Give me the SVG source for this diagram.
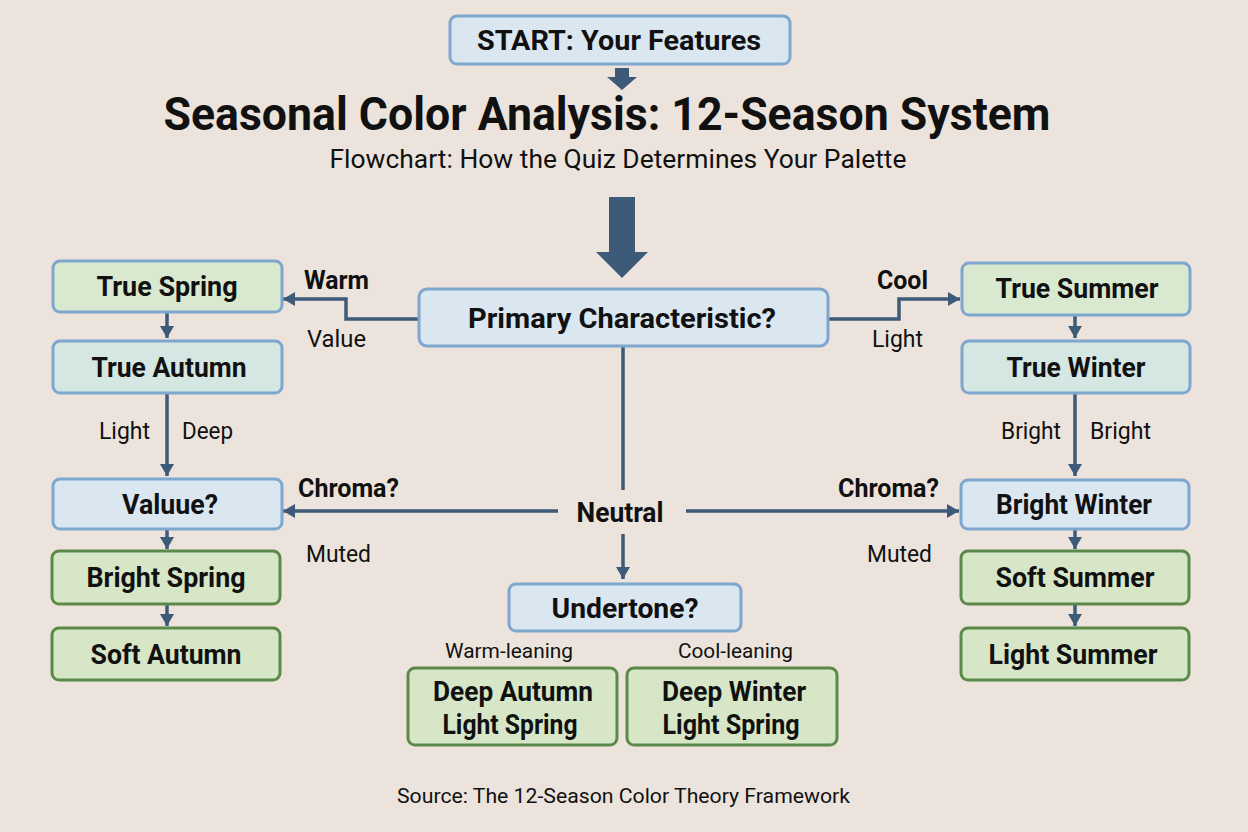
<svg xmlns="http://www.w3.org/2000/svg" width="1248" height="832" viewBox="0 0 1248 832">
<style>
text{font-family:Roboto,"Liberation Sans",sans-serif;fill:#111}
.b{font-weight:bold}
.nt{font-weight:bold;font-size:28px;text-anchor:middle}
.lb{font-size:23px}
.lbb{font-weight:bold;font-size:25px}
.blue{fill:#dae6f0;stroke:#7ea6cf;stroke-width:3}
.lg{fill:#d9e9cf;stroke:#7ea6cf;stroke-width:3}
.teal{fill:#d5e7e3;stroke:#7ea6cf;stroke-width:3}
.grn{fill:#d6e6c6;stroke:#5b8a48;stroke-width:3}
.c{fill:none;stroke:#3d5a78;stroke-width:3.5;marker-end:url(#ah)}
.cn{fill:none;stroke:#3d5a78;stroke-width:3.5}
</style>
<defs>
<marker id="ah" viewBox="0 0 12 14" refX="12" refY="7" markerWidth="12" markerHeight="14" markerUnits="userSpaceOnUse" orient="auto">
<path d="M0,0 L12,7 L0,14 z" fill="#3d5a78"/>
</marker>
</defs>
<rect width="1248" height="832" fill="#ece4dc"/>

<g id="connectors">
<polygon points="615,68 629,68 629,77 637,77 622,90 607,77 615,77" fill="#3d5a78"/>
<polygon points="609,197 635,197 635,252 648,252 622,278 596,252 609,252" fill="#3d5a78"/>
<path class="c" d="M419,319 H346 V299 H283"/>
<path class="c" d="M828,319 H899 V299 H960"/>
<path class="cn" d="M623,346 V490"/>
<path class="c" d="M558,511 H283"/>
<path class="c" d="M686,511 H959"/>
<path class="c" d="M623,534 V579"/>
<path class="c" d="M167,312 V338"/>
<path class="c" d="M167,393 V476"/>
<path class="c" d="M167,529 V549"/>
<path class="c" d="M167,605 V626"/>
<path class="c" d="M1075,315 V338"/>
<path class="c" d="M1075,393 V476"/>
<path class="c" d="M1075,529 V549"/>
<path class="c" d="M1075,605 V626"/>
</g>

<g id="title">
<text x="607" y="130" class="b" font-size="46" text-anchor="middle" textLength="887" lengthAdjust="spacingAndGlyphs">Seasonal Color Analysis: 12-Season System</text>
<text x="618" y="168" font-size="25" text-anchor="middle" textLength="577" lengthAdjust="spacingAndGlyphs" fill="#1c1c1c">Flowchart: How the Quiz Determines Your Palette</text>
</g>

<g id="start"><rect class="blue" x="450" y="16" width="340" height="48" rx="7"/>
<text class="nt" x="619" y="50" textLength="284" lengthAdjust="spacingAndGlyphs">START: Your Features</text></g>

<g id="primary"><rect class="blue" x="419" y="289" width="409" height="57" rx="8"/>
<text class="nt" x="622" y="328" textLength="308" lengthAdjust="spacingAndGlyphs">Primary Characteristic?</text></g>

<g id="true-spring"><rect class="lg" x="53" y="261" width="229" height="51" rx="7"/>
<text class="nt" x="167" y="296" textLength="141" lengthAdjust="spacingAndGlyphs">True Spring</text></g>
<g id="true-autumn"><rect class="teal" x="53" y="341" width="229" height="52" rx="7"/>
<text class="nt" x="169" y="377" textLength="155" lengthAdjust="spacingAndGlyphs">True Autumn</text></g>
<g id="valuue"><rect class="blue" x="53" y="479" width="229" height="50" rx="7"/>
<text class="nt" x="170" y="514" textLength="96" lengthAdjust="spacingAndGlyphs">Valuue?</text></g>
<g id="bright-spring"><rect class="grn" x="52" y="551" width="228" height="53" rx="7"/>
<text class="nt" x="166" y="587" textLength="159" lengthAdjust="spacingAndGlyphs">Bright Spring</text></g>
<g id="soft-autumn"><rect class="grn" x="52" y="628" width="228" height="52" rx="7"/>
<text class="nt" x="166" y="664" textLength="151" lengthAdjust="spacingAndGlyphs">Soft Autumn</text></g>

<g id="true-summer"><rect class="lg" x="962" y="263" width="228" height="52" rx="7"/>
<text class="nt" x="1077" y="298" textLength="163" lengthAdjust="spacingAndGlyphs">True Summer</text></g>
<g id="true-winter"><rect class="teal" x="962" y="341" width="228" height="52" rx="7"/>
<text class="nt" x="1076" y="377" textLength="139" lengthAdjust="spacingAndGlyphs">True Winter</text></g>
<g id="bright-winter"><rect class="blue" x="961" y="480" width="228" height="49" rx="7"/>
<text class="nt" x="1074" y="514" textLength="156" lengthAdjust="spacingAndGlyphs">Bright Winter</text></g>
<g id="soft-summer"><rect class="grn" x="961" y="551" width="228" height="53" rx="7"/>
<text class="nt" x="1075" y="587" textLength="159" lengthAdjust="spacingAndGlyphs">Soft Summer</text></g>
<g id="light-summer"><rect class="grn" x="961" y="628" width="228" height="52" rx="7"/>
<text class="nt" x="1073" y="664" textLength="169" lengthAdjust="spacingAndGlyphs">Light Summer</text></g>

<g id="neutral"><text class="nt" x="620" y="522" textLength="87" lengthAdjust="spacingAndGlyphs">Neutral</text></g>
<g id="undertone"><rect class="blue" x="509" y="584" width="232" height="47" rx="7"/>
<text class="nt" x="625" y="618" textLength="147" lengthAdjust="spacingAndGlyphs">Undertone?</text></g>
<g id="deep-autumn"><rect class="grn" x="408" y="668" width="209" height="77" rx="7"/>
<text class="nt" x="513" y="701" textLength="160" lengthAdjust="spacingAndGlyphs">Deep Autumn</text>
<text class="nt" x="510" y="734" textLength="135" lengthAdjust="spacingAndGlyphs">Light Spring</text></g>
<g id="deep-winter"><rect class="grn" x="627" y="668" width="210" height="77" rx="7"/>
<text class="nt" x="734" y="701" textLength="144" lengthAdjust="spacingAndGlyphs">Deep Winter</text>
<text class="nt" x="731" y="734" textLength="137" lengthAdjust="spacingAndGlyphs">Light Spring</text></g>

<g id="labels">
<text class="lbb" x="304" y="289" textLength="65" lengthAdjust="spacingAndGlyphs">Warm</text>
<text class="lb" x="307" y="347" textLength="59" lengthAdjust="spacingAndGlyphs">Value</text>
<text class="lbb" x="877" y="289" textLength="51" lengthAdjust="spacingAndGlyphs">Cool</text>
<text class="lb" x="872" y="347" textLength="51" lengthAdjust="spacingAndGlyphs">Light</text>
<text class="lb" x="99" y="439" textLength="51" lengthAdjust="spacingAndGlyphs">Light</text>
<text class="lb" x="182" y="439" textLength="51" lengthAdjust="spacingAndGlyphs">Deep</text>
<text class="lb" x="1001" y="439" textLength="60" lengthAdjust="spacingAndGlyphs">Bright</text>
<text class="lb" x="1090" y="439" textLength="61" lengthAdjust="spacingAndGlyphs">Bright</text>
<text class="lbb" x="298" y="497" textLength="101" lengthAdjust="spacingAndGlyphs">Chroma?</text>
<text class="lbb" x="838" y="497" textLength="101" lengthAdjust="spacingAndGlyphs">Chroma?</text>
<text class="lb" x="306" y="562" textLength="65" lengthAdjust="spacingAndGlyphs">Muted</text>
<text class="lb" x="867" y="562" textLength="65" lengthAdjust="spacingAndGlyphs">Muted</text>
<text x="445" y="658" font-size="20" textLength="128" lengthAdjust="spacingAndGlyphs">Warm-leaning</text>
<text x="678" y="658" font-size="20" textLength="115" lengthAdjust="spacingAndGlyphs">Cool-leaning</text>
</g>

<text x="397" y="803" font-size="21" textLength="453" lengthAdjust="spacingAndGlyphs" fill="#1c1c1c">Source: The 12-Season Color Theory Framework</text>
</svg>
